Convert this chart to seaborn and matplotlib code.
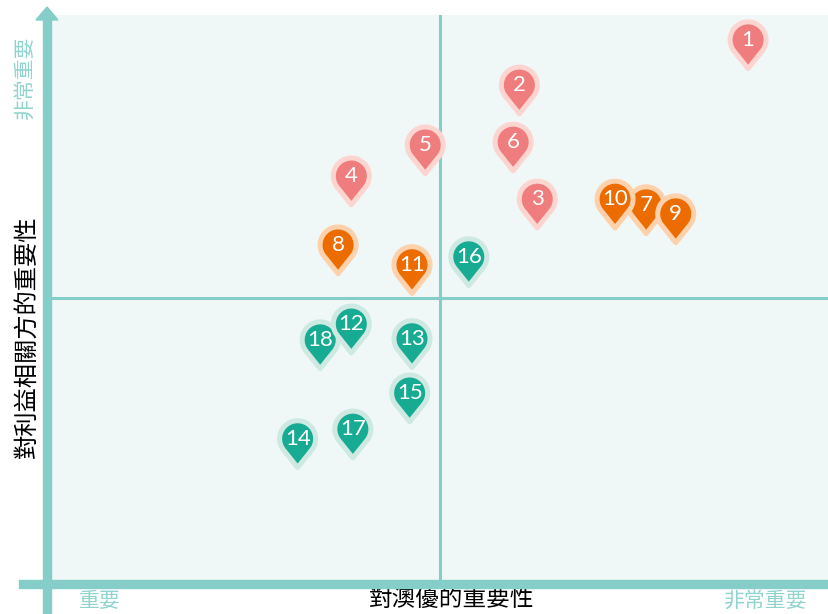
import numpy as np
import pandas as pd
import matplotlib
matplotlib.use("Agg")
import matplotlib.pyplot as plt
from matplotlib.path import Path
from matplotlib.patches import Rectangle, Polygon
import seaborn as sns

# Issue numbers, grouped by colour (18 listed before 12 so 12 sits on top)
issue_ids = [1, 2, 3, 4, 5, 6, 7, 8, 9, 10, 11, 18, 12, 13, 14, 15, 16, 17]
importance_company = [89.6, 60.2, 62.5, 38.6, 48.1, 59.4, 76.5, 36.9, 80.3, 72.5,
                      46.4, 34.6, 38.6, 46.4, 31.7, 46.1, 53.7, 38.8]
importance_stakeholders = [95.6, 87.6, 67.4, 71.5, 77.0, 77.5, 66.4, 59.3, 64.8, 67.4,
                           55.8, 42.5, 45.3, 42.7, 25.0, 33.1, 57.2, 26.7]
groups = ["red"] * 6 + ["orange"] * 5 + ["teal"] * 7

x_ticks = ["重要", "非常重要"]
x_title = "對澳優的重要性"
y_title = "對利益相關方的重要性"

face_colors = {"red": "#f07d7d", "orange": "#ec6c00", "teal": "#16ab92"}
halo_colors = {"red": "#fcd5d1", "orange": "#fdd1ab", "teal": "#cde9e1"}
axis_color = "#85cdc9"
bg_color = "#f0f8f7"

df = pd.DataFrame({
    "id": issue_ids,
    "company": importance_company,
    "stakeholders": importance_stakeholders,
    "group": groups,
})

# Map-pin marker: circle with a point below, circle centre at the data point
tip = 1.6
ang = np.degrees(np.arccos(1 / tip))
theta = np.radians(np.linspace(-90 + ang, 270 - ang, 80))
verts = [(0, -tip)] + list(zip(np.cos(theta), np.sin(theta))) + [(0, -tip)]
pin = Path(verts, closed=True)

sns.set_theme(style="white")
plt.rcParams["font.family"] = ["Noto Sans CJK TC", "DejaVu Sans"]

fig = plt.figure(figsize=(8.29, 6.14), dpi=100)
ax = fig.add_axes([51 / 829, 34 / 614, 778 / 829, 565 / 614])
ax.set_facecolor(bg_color)
for s in ax.spines.values():
    s.set_visible(False)
ax.set_xlim(0, 100)
ax.set_ylim(0, 100)
ax.set_xticks([])
ax.set_yticks([])

# quadrant lines
ax.axvline(50, color=axis_color, lw=2.2, zorder=1)
ax.axhline(50, color=axis_color, lw=2.2, zorder=1)

sns.scatterplot(data=df, x="company", y="stakeholders", hue="group",
                palette=face_colors, marker=pin, s=1720,
                edgecolor=df["group"].map(halo_colors).tolist(),
                linewidth=3.6, legend=False, ax=ax, zorder=3)
ax.collections[-1].set_joinstyle("round")
ax.set_xlabel("")
ax.set_ylabel("")

for _, r in df.iterrows():
    ax.text(r["company"], r["stakeholders"], str(r["id"]), ha="center",
            va="center", color="white", fontsize=16, family="Lato", zorder=4)

# thick axis bars with arrow on the vertical one
tf = fig.transFigure
fig.patches.append(Rectangle((43 / 829, 0), 8 / 829, (614 - 20) / 614,
                             transform=tf, color=axis_color, zorder=5))
fig.patches.append(Polygon([(36 / 829, (614 - 20) / 614), (58 / 829, (614 - 20) / 614),
                            (47 / 829, (614 - 7) / 614)],
                           transform=tf, color=axis_color, zorder=5))
fig.patches.append(Rectangle((19 / 829, (614 - 588) / 614), 810 / 829, 8 / 614,
                             transform=tf, color=axis_color, zorder=5))

# axis texts
fig.text(100 / 829, 1 - 601 / 614, x_ticks[0], color="#8fd4cf", fontsize=15,
         ha="center", va="center")
fig.text(766 / 829, 1 - 601 / 614, x_ticks[1], color="#8fd4cf", fontsize=15,
         ha="center", va="center")
fig.text(25 / 829, 1 - 77 / 614, x_ticks[1], color="#8fd4cf", fontsize=15,
         ha="center", va="center", rotation=90)
fig.text(452 / 829, 1 - 600 / 614, x_title, color="black", fontsize=17,
         ha="center", va="center", fontweight="medium")
fig.text(27 / 829, 1 - 337 / 614, y_title, color="black", fontsize=17.5,
         ha="center", va="center", rotation=90, fontweight="medium")

fig.savefig("out.png", dpi=100, facecolor="white")
